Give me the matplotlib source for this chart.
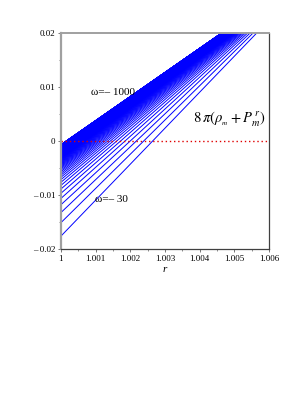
#!/usr/bin/env python3

import matplotlib
matplotlib.use('Agg')
import matplotlib.pyplot as plt
import numpy as np
from matplotlib.ticker import MultipleLocator

# parameter grid: omega = -30, -35, ..., -1000
omega = np.arange(-30, -1001, -5)
# straight lines y = y0 + s*(r-1), coefficients
# (y0 and s vary linearly with 1/|omega|)
y0_a, y0_b = -0.523, -0.00018
s_a, s_b = 68.0, 4.39

r = np.array([1.0, 1.006])
xticks = [1, 1.001, 1.002, 1.003, 1.004, 1.005, 1.006]
xticklabels = ['1', '1.001', '1.002', '1.003', '1.004', '1.005', '1.006']
yticks = [-0.02, -0.01, 0, 0.01, 0.02]
yticklabels = ['\u2013 0.02', '\u2013 0.01', '0', '0.01', '0.02']

plt.rcParams['font.family'] = 'Liberation Serif'
plt.rcParams['mathtext.fontset'] = 'stix'

fig = plt.figure(figsize=(3.06, 3.96), dpi=100)
ax = fig.add_axes([0.199, 0.371, 0.680, 0.546])

for w in omega:
    y0 = y0_a / abs(w) + y0_b
    s = s_a / abs(w) + s_b
    ax.plot(r, y0 + s * (r - 1), color='#0000ff', lw=0.7)

ax.plot(r, [0, 0], color='#e00000', ls=(0, (1, 2)), lw=1.0)

ax.set_xlim(1, 1.006)
ax.set_ylim(-0.02, 0.02)
ax.set_xticks(xticks)
ax.set_xticklabels(xticklabels)
ax.set_yticks(yticks)
ax.set_yticklabels(yticklabels)
ax.xaxis.set_minor_locator(MultipleLocator(0.0005))
ax.yaxis.set_minor_locator(MultipleLocator(0.005))
ax.tick_params(labelsize=6.5, length=2.5, width=0.6, color='#606060', pad=1.5)
ax.tick_params(which='minor', length=1.5, width=0.5, color='#606060')

ax.spines['left'].set_color('#a0a0a0')
ax.spines['left'].set_linewidth(1.6)
ax.spines['top'].set_color('#a0a0a0')
ax.spines['top'].set_linewidth(1.4)
ax.spines['right'].set_color('#404040')
ax.spines['right'].set_linewidth(0.9)
ax.spines['bottom'].set_color('#404040')
ax.spines['bottom'].set_linewidth(0.9)

ax.text(1.0015, 0.0089, '\u03c9=\u2013 1000', fontsize=8, ha='center', va='center')
ax.text(1.00147, -0.0109, '\u03c9=\u2013 30', fontsize=8, ha='center', va='center')
ax.text(1.00486, 0.0039, r'$8\,\pi\left(\rho_{_m}+P^{\,r}_{m}\right)$', fontsize=10.5,
        ha='center', va='center')
ax.set_xlabel('r', fontsize=8, style='italic', labelpad=2)

plt.savefig('out.png', dpi=100)
